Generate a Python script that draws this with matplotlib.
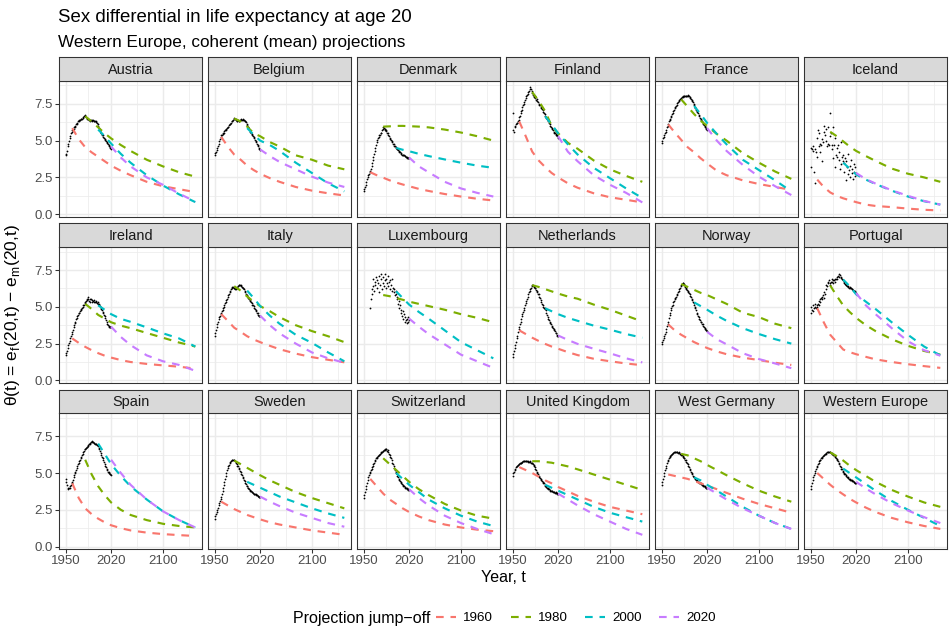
import numpy as np
import matplotlib
matplotlib.use("Agg")
import matplotlib.pyplot as plt
from matplotlib.lines import Line2D

plt.rcParams["font.family"] = ["Liberation Sans", "DejaVu Sans"]
plt.rcParams["mathtext.fontset"] = "custom"
plt.rcParams["mathtext.rm"] = "Liberation Sans"

countries = ["Austria", "Belgium", "Denmark", "Finland", "France", "Iceland",
             "Ireland", "Italy", "Luxembourg", "Netherlands", "Norway", "Portugal",
             "Spain", "Sweden", "Switzerland", "United Kingdom", "West Germany",
             "Western Europe"]

obs_years = list(range(1950, 2021))
nan = float("nan")

# observed sex gap in e(20), yearly 1950-2020
observed = {
    "Austria": [4.0, 4.1, 4.3, 4.6, 4.8, 5.0, 5.2, 5.3, 5.5, 5.6,
                5.7, 5.7, 5.8, 5.9, 5.95, 6.0, 6.1, 6.15, 6.2, 6.3,
                6.35, 6.4, 6.4, 6.45, 6.5, 6.5, 6.55, 6.6, 6.65, 6.75,
                6.7, 6.6, 6.55, 6.5, 6.45, 6.45, 6.4, 6.4, 6.35, 6.4,
                6.4, 6.35, 6.4, 6.35, 6.3, 6.3, 6.3, 6.25, 6.2, 6.1,
                6.0, 5.85, 5.75, 5.65, 5.55, 5.5, 5.4, 5.35, 5.25, 5.2,
                5.1, 5.05, 5.0, 4.9, 4.85, 4.75, 4.7, 4.6, 4.55, 4.5, 4.45],
    "Belgium": [4.05, 4.15, 4.25, 4.35, 4.5, 4.65, 4.8, 4.95, 5.1, 5.25,
                5.35, 5.4, 5.45, 5.5, 5.55, 5.65, 5.7, 5.75, 5.8, 5.85,
                5.9, 5.95, 6.05, 6.1, 6.15, 6.2, 6.3, 6.35, 6.4, 6.5,
                6.55, 6.5, 6.45, 6.4, 6.35, 6.35, 6.4, 6.35, 6.35, 6.4,
                6.4, 6.45, 6.4, 6.45, 6.4, 6.4, 6.35, 6.3, 6.25, 6.15,
                6.05, 5.95, 5.9, 5.8, 5.7, 5.6, 5.55, 5.45, 5.4, 5.3,
                5.25, 5.15, 5.05, 4.95, 4.9, 4.8, 4.7, 4.6, 4.5, 4.4, 4.35],
    "Denmark": [1.55, 1.7, 1.85, 2.0, 2.2, 2.4, 2.55, 2.65, 2.75, 2.85,
                2.95, 3.1, 3.3, 3.5, 3.7, 3.9, 4.1, 4.3, 4.5, 4.7,
                4.9, 5.05, 5.15, 5.25, 5.35, 5.4, 5.5, 5.55, 5.7, 5.8,
                5.9, 5.85, 5.8, 5.75, 5.7, 5.65, 5.55, 5.5, 5.4, 5.3,
                5.2, 5.1, 5.05, 4.95, 4.9, 4.8, 4.75, 4.65, 4.6, 4.55,
                4.5, 4.45, 4.4, 4.35, 4.3, 4.25, 4.2, 4.15, 4.1, 4.05,
                4.05, 4.0, 4.0, 3.95, 3.95, 3.9, 3.9, 3.85, 3.85, 3.8, 3.8],
    "Finland": [6.9, 5.7, 5.6, 5.9, 6.0, 6.1, 6.2, 6.2, 6.3, 6.4,
                6.6, 6.7, 6.85, 7.0, 7.1, 7.25, 7.4, 7.5, 7.65, 7.75,
                7.9, 8.0, 8.1, 8.2, 8.3, 8.4, 8.5, 8.65, 8.5, 8.35,
                8.25, 8.1, 8.0, 7.95, 8.05, 7.9, 7.75, 7.8, 7.7, 7.6,
                7.5, 7.45, 7.4, 7.3, 7.2, 7.15, 7.05, 6.95, 6.85, 6.8,
                6.7, 6.6, 6.55, 6.45, 6.4, 6.3, 6.2, 6.1, 6.0, 5.9,
                5.85, 5.8, 5.7, 5.6, 5.55, 5.5, 5.45, 5.4, 5.35, 5.3, 5.2],
    "France": [4.85, 5.0, 5.15, 5.25, 5.4, 5.5, 5.6, 5.75, 5.9, 6.0,
               6.15, 6.3, 6.4, 6.5, 6.6, 6.7, 6.8, 6.9, 7.0, 7.1,
               7.2, 7.3, 7.35, 7.45, 7.55, 7.6, 7.7, 7.75, 7.8, 7.85,
               7.9, 7.95, 7.95, 8.0, 8.0, 8.0, 8.05, 8.0, 8.05, 8.05,
               8.05, 8.1, 8.0, 7.95, 7.9, 7.8, 7.75, 7.7, 7.6, 7.5,
               7.4, 7.3, 7.2, 7.1, 7.0, 6.95, 6.85, 6.75, 6.65, 6.55,
               6.45, 6.4, 6.3, 6.2, 6.15, 6.05, 6.0, 5.95, 5.85, 5.8, 5.75],
    "Iceland": [4.5, 3.2, 4.4, 4.6, 4.3, 2.9, 2.1, 4.4, 4.2, 3.9,
                5.2, 5.7, 5.5, 4.6, 4.8, 4.2, 4.7, 5.1, 3.6, 4.9,
                5.6, 6.0, 5.4, 5.8, 5.0, 4.6, 4.8, 5.9, 4.7, 5.3,
                6.9, 5.5, 4.4, 4.7, 3.8, 5.9, 4.7, 5.2, 3.2, 4.0,
                4.5, 3.9, 4.7, 3.7, 4.2, 3.1, 4.9, 3.4, 3.9, 3.6,
                4.0, 2.9, 3.5, 3.8, 2.3, 3.6, 3.2, 2.7, 4.1, 3.0,
                3.3, 2.5, 3.7, 2.8, 3.1, 2.4, 3.4, 2.9, 2.6, 3.2, 2.8],
    "Ireland": [1.7, 1.85, 2.0, 2.2, 2.4, 2.55, 2.7, 2.85, 3.0, 3.15,
                3.3, 3.45, 3.6, 3.75, 3.9, 4.0, 4.15, 4.25, 4.35, 4.45,
                4.55, 4.6, 4.7, 4.75, 4.85, 4.9, 5.0, 5.1, 5.15, 5.25,
                5.3, 5.4, 5.45, 5.55, 5.65, 5.5, 5.4, 5.5, 5.35, 5.5,
                5.45, 5.3, 5.4, 5.35, 5.45, 5.3, 5.4, 5.35, 5.25, 5.3,
                5.2, 5.2, 5.15, 5.05, 4.95, 4.85, 4.75, 4.65, 4.55, 4.45,
                4.4, 4.25, 4.1, 3.95, 3.85, 3.75, 3.7, 3.65, 3.6, 3.65, 3.6],
    "Italy": [3.0, 3.2, 3.4, 3.6, 3.8, 4.0, 4.15, 4.3, 4.4, 4.5,
              4.6, 4.7, 4.8, 4.9, 5.0, 5.1, 5.25, 5.35, 5.45, 5.55,
              5.65, 5.8, 5.9, 6.0, 6.1, 6.2, 6.3, 6.35, 6.35, 6.3,
              6.25, 6.2, 6.2, 6.25, 6.3, 6.35, 6.4, 6.45, 6.45, 6.45,
              6.4, 6.45, 6.35, 6.3, 6.25, 6.2, 6.1, 6.0, 5.9, 5.8,
              5.75, 5.7, 5.6, 5.55, 5.45, 5.4, 5.3, 5.25, 5.15, 5.1,
              5.05, 4.95, 4.85, 4.75, 4.7, 4.6, 4.55, 4.45, 4.4, 4.35, 4.4],
    "Luxembourg": [nan, nan, nan, nan, nan, nan, nan, nan, nan, nan,
                   4.9, 5.5, 6.2, 5.9, 6.4, 6.9, 6.1, 6.7, 6.5, 7.0,
                   6.3, 6.8, 6.6, 6.0, 7.1, 6.5, 6.9, 7.2, 6.2, 6.6,
                   7.0, 6.4, 6.8, 7.2, 6.3, 6.9, 6.6, 7.1, 6.4, 6.7,
                   6.8, 6.2, 6.5, 6.9, 6.1, 6.3, 6.0, 6.2, 5.8, 6.1,
                   5.9, 5.5, 5.7, 5.2, 5.4, 4.9, 5.1, 4.6, 4.8, 4.4,
                   4.7, 4.2, 4.5, 4.0, 4.3, 4.1, 3.9, 4.2, 4.0, 4.3, 4.1],
    "Netherlands": [1.6, 1.8, 2.0, 2.2, 2.4, 2.6, 2.85, 3.05, 3.3, 3.5,
                    3.65, 3.8, 3.95, 4.15, 4.35, 4.5, 4.65, 4.8, 4.95, 5.1,
                    5.25, 5.4, 5.55, 5.7, 5.85, 6.0, 6.1, 6.2, 6.3, 6.4,
                    6.45, 6.45, 6.4, 6.35, 6.3, 6.25, 6.15, 6.05, 6.0, 5.9,
                    5.85, 5.7, 5.6, 5.45, 5.35, 5.2, 5.1, 5.0, 4.9, 4.85,
                    4.9, 4.75, 4.6, 4.45, 4.3, 4.2, 4.1, 4.0, 3.9, 3.8,
                    3.7, 3.65, 3.55, 3.5, 3.4, 3.35, 3.25, 3.2, 3.1, 3.05, 3.0],
    "Norway": [2.5, 2.6, 2.75, 2.9, 3.0, 3.15, 3.3, 3.5, 3.7, 3.85,
               4.0, 4.25, 4.45, 4.6, 4.75, 4.9, 5.05, 5.15, 5.3, 5.4,
               5.5, 5.6, 5.7, 5.8, 5.9, 6.0, 6.1, 6.2, 6.3, 6.4,
               6.5, 6.55, 6.6, 6.6, 6.55, 6.45, 6.35, 6.3, 6.2, 6.15,
               6.1, 6.0, 5.95, 5.85, 5.75, 5.65, 5.55, 5.45, 5.35, 5.25,
               5.15, 5.0, 4.9, 4.75, 4.6, 4.5, 4.4, 4.3, 4.2, 4.1,
               4.0, 3.95, 3.85, 3.8, 3.7, 3.65, 3.55, 3.5, 3.45, 3.4, 3.35],
    "Portugal": [4.6, 5.0, 4.8, 4.7, 5.1, 4.9, 5.0, 5.2, 4.9, 5.1,
                 5.0, 5.2, 5.1, 5.4, 5.5, 5.3, 5.6, 5.5, 5.7, 5.8,
                 5.6, 6.0, 5.9, 6.2, 6.5, 6.4, 6.7, 6.6, 6.8, 6.6,
                 6.5, 6.7, 6.9, 6.7, 6.8, 6.6, 6.8, 6.9, 6.7, 6.9,
                 7.0, 6.9, 7.1, 7.0, 7.2, 7.15, 7.0, 6.95, 6.9, 6.8,
                 6.85, 6.7, 6.6, 6.55, 6.5, 6.45, 6.4, 6.4, 6.35, 6.3,
                 6.35, 6.3, 6.25, 6.2, 6.2, 6.15, 6.1, 6.05, 6.1, 6.0, 5.95],
    "Spain": [4.6, 4.4, 4.2, 4.0, 3.9, 3.95, 4.0, 4.1, 4.2, 4.3,
              4.4, 4.55, 4.7, 4.85, 5.0, 5.1, 5.2, 5.35, 5.5, 5.6,
              5.7, 5.8, 5.9, 6.0, 6.1, 6.2, 6.3, 6.4, 6.5, 6.6,
              6.65, 6.7, 6.75, 6.8, 6.85, 6.9, 6.95, 7.0, 7.05, 7.1,
              7.1, 7.15, 7.1, 7.05, 7.05, 7.0, 7.0, 6.95, 6.9, 6.9,
              6.85, 6.7, 6.6, 6.5, 6.35, 6.25, 6.1, 6.0, 5.85, 5.75,
              5.6, 5.5, 5.4, 5.3, 5.2, 5.1, 5.05, 5.0, 4.95, 4.9, 4.85],
    "Sweden": [1.9, 2.05, 2.2, 2.35, 2.5, 2.65, 2.8, 2.95, 3.1, 3.25,
               3.4, 3.6, 3.8, 4.0, 4.2, 4.4, 4.6, 4.8, 5.0, 5.2,
               5.35, 5.45, 5.55, 5.65, 5.75, 5.8, 5.85, 5.9, 5.9, 5.85,
               5.85, 5.8, 5.75, 5.7, 5.6, 5.5, 5.45, 5.35, 5.25, 5.15,
               5.05, 4.95, 4.85, 4.75, 4.65, 4.55, 4.45, 4.35, 4.25, 4.15,
               4.1, 4.0, 3.95, 3.9, 3.85, 3.8, 3.75, 3.7, 3.7, 3.65,
               3.6, 3.6, 3.55, 3.55, 3.5, 3.5, 3.45, 3.45, 3.4, 3.4, 3.4],
    "Switzerland": [3.3, 3.5, 3.7, 3.9, 4.1, 4.3, 4.5, 4.7, 4.85, 5.0,
                    5.1, 5.2, 5.3, 5.4, 5.5, 5.6, 5.7, 5.8, 5.9, 6.0,
                    6.05, 6.1, 6.15, 6.2, 6.25, 6.3, 6.35, 6.4, 6.45, 6.5,
                    6.5, 6.55, 6.6, 6.55, 6.6, 6.65, 6.5, 6.55, 6.4, 6.3,
                    6.2, 6.1, 6.0, 5.85, 5.7, 5.6, 5.5, 5.35, 5.2, 5.1,
                    5.0, 4.9, 4.8, 4.7, 4.6, 4.5, 4.45, 4.4, 4.3, 4.25,
                    4.2, 4.15, 4.1, 4.05, 4.0, 4.0, 3.95, 3.9, 3.9, 3.85, 3.85],
    "United Kingdom": [4.8, 5.0, 5.1, 5.2, 5.3, 5.4, 5.45, 5.5, 5.55, 5.6,
                       5.6, 5.65, 5.7, 5.7, 5.75, 5.75, 5.8, 5.8, 5.8, 5.8,
                       5.8, 5.8, 5.8, 5.75, 5.8, 5.75, 5.8, 5.75, 5.7, 5.7,
                       5.65, 5.6, 5.55, 5.5, 5.4, 5.3, 5.2, 5.1, 5.0, 4.9,
                       4.8, 4.7, 4.65, 4.6, 4.5, 4.45, 4.4, 4.35, 4.3, 4.2,
                       4.15, 4.1, 4.05, 4.0, 3.95, 3.9, 3.9, 3.85, 3.8, 3.8,
                       3.75, 3.75, 3.7, 3.7, 3.7, 3.65, 3.65, 3.7, 3.65, 3.6, 3.6],
    "West Germany": [4.2, 4.4, 4.6, 4.8, 5.0, 5.2, 5.35, 5.5, 5.65, 5.8,
                     5.9, 6.0, 6.1, 6.15, 6.2, 6.25, 6.3, 6.35, 6.35, 6.4,
                     6.4, 6.4, 6.45, 6.4, 6.4, 6.35, 6.4, 6.35, 6.3, 6.3,
                     6.25, 6.2, 6.15, 6.1, 6.05, 6.0, 5.9, 5.85, 5.75, 5.7,
                     5.6, 5.5, 5.4, 5.3, 5.2, 5.1, 5.0, 4.9, 4.8, 4.75,
                     4.7, 4.65, 4.6, 4.55, 4.5, 4.45, 4.4, 4.4, 4.35, 4.3,
                     4.3, 4.25, 4.2, 4.2, 4.15, 4.1, 4.1, 4.05, 4.0, 4.0, 3.95],
    "Western Europe": [3.9, 4.1, 4.3, 4.5, 4.7, 4.85, 5.0, 5.15, 5.3, 5.4,
                       5.5, 5.6, 5.7, 5.8, 5.85, 5.9, 6.0, 6.05, 6.1, 6.15,
                       6.2, 6.25, 6.3, 6.3, 6.35, 6.4, 6.4, 6.4, 6.45, 6.4,
                       6.4, 6.35, 6.35, 6.3, 6.3, 6.25, 6.2, 6.15, 6.1, 6.0,
                       5.95, 5.85, 5.8, 5.7, 5.6, 5.5, 5.4, 5.3, 5.25, 5.15,
                       5.1, 5.0, 4.95, 4.9, 4.85, 4.8, 4.75, 4.7, 4.65, 4.6,
                       4.6, 4.55, 4.5, 4.5, 4.45, 4.45, 4.4, 4.4, 4.35, 4.35, 4.3],
}

# projection years; each jump-off series starts at its own jump-off year
proj_years = [1960, 1970, 1980, 1990, 2000, 2010, 2020, 2035, 2050, 2075, 2100, 2125, 2150]
jumpoffs = [1960, 1980, 2000, 2020]

proj_1960 = {
    "Austria": [5.85, 5.1, 4.55, 4.2, 3.9, 3.6, 3.3, 2.95, 2.65, 2.2, 1.9, 1.7, 1.5],
    "Belgium": [5.25, 4.6, 4.05, 3.7, 3.3, 3.0, 2.75, 2.45, 2.2, 1.85, 1.6, 1.42, 1.27],
    "Denmark": [2.85, 2.65, 2.48, 2.3, 2.15, 2.02, 1.9, 1.72, 1.58, 1.37, 1.2, 1.05, 0.93],
    "Finland": [6.3, 5.3, 4.25, 3.65, 3.2, 2.8, 2.5, 2.1, 1.8, 1.42, 1.15, 0.98, 0.8],
    "France": [6.1, 5.55, 5.05, 4.55, 4.2, 3.8, 3.45, 2.95, 2.65, 2.3, 2.05, 1.85, 1.65],
    "Iceland": [2.35, 1.85, 1.48, 1.25, 1.08, 0.95, 0.82, 0.65, 0.56, 0.48, 0.38, 0.3, 0.25],
    "Ireland": [2.85, 2.55, 2.28, 2.05, 1.85, 1.68, 1.55, 1.38, 1.25, 1.12, 1.02, 0.93, 0.8],
    "Italy": [4.5, 4.05, 3.58, 3.3, 3.0, 2.78, 2.6, 2.35, 2.12, 1.82, 1.58, 1.4, 1.23],
    "Luxembourg": None,
    "Netherlands": [3.4, 3.15, 2.9, 2.68, 2.48, 2.3, 2.15, 1.92, 1.72, 1.47, 1.3, 1.15, 1.03],
    "Norway": [3.8, 3.4, 3.1, 2.85, 2.6, 2.4, 2.2, 1.97, 1.78, 1.55, 1.38, 1.2, 1.05],
    "Portugal": [4.9, 3.95, 3.1, 2.6, 2.1, 1.92, 1.78, 1.6, 1.43, 1.25, 1.1, 0.97, 0.85],
    "Spain": [4.3, 3.3, 2.6, 2.2, 1.9, 1.65, 1.45, 1.25, 1.1, 0.95, 0.85, 0.78, 0.72],
    "Sweden": [3.05, 2.8, 2.55, 2.35, 2.15, 2.0, 1.85, 1.65, 1.5, 1.3, 1.1, 0.95, 0.8],
    "Switzerland": [4.6, 4.1, 3.6, 3.2, 2.9, 2.6, 2.35, 2.05, 1.8, 1.5, 1.3, 1.15, 1.05],
    "United Kingdom": [5.4, 5.2, 5.0, 4.75, 4.5, 4.3, 4.05, 3.75, 3.45, 3.05, 2.7, 2.45, 2.2],
    "West Germany": [4.9, 4.8, 4.7, 4.6, 4.45, 4.3, 4.15, 3.9, 3.65, 3.25, 2.9, 2.6, 2.3],
    "Western Europe": [5.0, 4.6, 4.2, 3.85, 3.55, 3.25, 3.0, 2.65, 2.35, 1.95, 1.65, 1.4, 1.2],
}

proj_1980 = {
    "Austria": [6.65, 6.3, 5.9, 5.5, 5.15, 4.7, 4.3, 3.7, 3.25, 2.85, 2.55],
    "Belgium": [6.5, 6.3, 5.95, 5.5, 5.3, 4.9, 4.6, 4.0, 3.7, 3.3, 3.05],
    "Denmark": [5.95, 5.97, 6.0, 6.0, 5.98, 5.95, 5.9, 5.75, 5.55, 5.3, 5.0],
    "Finland": [8.3, 7.7, 7.0, 6.0, 5.5, 4.85, 4.45, 3.65, 3.05, 2.6, 2.2],
    "France": [7.8, 7.3, 6.8, 6.35, 6.0, 5.45, 5.0, 4.15, 3.5, 2.9, 2.4],
    "Iceland": [5.6, 5.3, 4.95, 4.6, 4.3, 3.95, 3.62, 3.1, 2.75, 2.5, 2.2],
    "Ireland": [5.2, 4.85, 4.45, 4.2, 3.95, 3.72, 3.55, 3.22, 2.9, 2.57, 2.3],
    "Italy": [6.4, 6.1, 5.7, 5.35, 5.05, 4.7, 4.3, 3.75, 3.35, 3.0, 2.6],
    "Luxembourg": [5.8, 5.72, 5.6, 5.48, 5.35, 5.2, 5.05, 4.8, 4.5, 4.25, 3.95],
    "Netherlands": [6.47, 6.35, 6.2, 6.05, 5.9, 5.7, 5.55, 5.15, 4.8, 4.4, 4.0],
    "Norway": [6.55, 6.35, 6.15, 5.95, 5.8, 5.5, 5.2, 4.6, 4.3, 3.85, 3.55],
    "Portugal": [6.45, 5.75, 5.1, 4.65, 4.25, 3.75, 3.35, 2.8, 2.35, 2.0, 1.75],
    "Spain": [5.9, 4.9, 4.1, 3.5, 3.0, 2.5, 2.15, 1.8, 1.55, 1.4, 1.3],
    "Sweden": [5.85, 5.6, 5.35, 5.1, 4.85, 4.5, 4.2, 3.7, 3.3, 2.95, 2.6],
    "Switzerland": [6.0, 5.6, 5.2, 4.8, 4.4, 3.9, 3.5, 2.9, 2.45, 2.1, 1.9],
    "United Kingdom": [5.8, 5.8, 5.75, 5.7, 5.6, 5.45, 5.25, 4.9, 4.55, 4.2, 3.85],
    "West Germany": [6.3, 6.2, 6.0, 5.8, 5.55, 5.2, 4.85, 4.3, 3.8, 3.4, 3.05],
    "Western Europe": [6.4, 6.15, 5.85, 5.5, 5.2, 4.8, 4.4, 3.85, 3.4, 3.0, 2.7],
}

proj_2000 = {
    "Austria": [5.75, 5.3, 4.8, 4.1, 3.5, 2.65, 1.95, 1.35, 0.82],
    "Belgium": [5.85, 5.4, 5.0, 4.7, 4.3, 3.5, 2.8, 2.1, 1.55],
    "Denmark": [4.5, 4.38, 4.28, 4.1, 3.95, 3.72, 3.5, 3.3, 3.15],
    "Finland": [6.65, 6.1, 5.5, 4.75, 4.06, 3.15, 2.45, 1.75, 1.1],
    "France": [7.35, 6.8, 6.2, 5.45, 4.75, 3.7, 3.0, 2.3, 1.55],
    "Iceland": [3.5, 3.1, 2.7, 2.35, 2.05, 1.6, 1.2, 0.88, 0.65],
    "Ireland": [5.1, 4.8, 4.5, 4.18, 3.98, 3.6, 3.2, 2.85, 2.3],
    "Italy": [6.1, 5.6, 5.05, 4.4, 3.85, 3.1, 2.55, 1.9, 1.3],
    "Luxembourg": [6.05, 5.6, 5.15, 4.65, 4.2, 3.4, 2.6, 2.05, 1.5],
    "Netherlands": [4.9, 4.7, 4.5, 4.25, 4.05, 3.72, 3.45, 3.15, 2.9],
    "Norway": [5.3, 5.05, 4.8, 4.4, 4.05, 3.55, 3.15, 2.8, 2.5],
    "Portugal": [6.85, 6.4, 5.85, 5.35, 4.85, 3.95, 3.1, 2.3, 1.7],
    "Spain": [7.0, 6.3, 5.6, 4.8, 4.1, 3.2, 2.4, 1.8, 1.3],
    "Sweden": [4.4, 4.2, 4.0, 3.7, 3.4, 3.0, 2.6, 2.25, 1.95],
    "Switzerland": [5.0, 4.6, 4.2, 3.7, 3.2, 2.6, 2.1, 1.7, 1.4],
    "United Kingdom": [4.2, 4.0, 3.8, 3.5, 3.2, 2.7, 2.3, 2.0, 1.7],
    "West Germany": [4.7, 4.5, 4.2, 3.8, 3.4, 2.7, 2.1, 1.6, 1.2],
    "Western Europe": [5.3, 5.0, 4.7, 4.25, 3.8, 3.1, 2.5, 1.95, 1.4],
}

proj_2020 = {
    "Austria": [4.6, 3.85, 3.25, 2.5, 2.0, 1.4, 0.85],
    "Belgium": [4.4, 3.95, 3.55, 3.05, 2.55, 2.15, 1.85],
    "Denmark": [3.85, 3.25, 2.85, 2.2, 1.75, 1.45, 1.2],
    "Finland": [5.3, 4.25, 3.6, 2.65, 2.0, 1.45, 0.8],
    "France": [5.85, 5.0, 4.3, 3.35, 2.55, 1.9, 1.3],
    "Iceland": [2.8, 2.38, 2.08, 1.62, 1.25, 0.9, 0.65],
    "Ireland": [3.65, 2.95, 2.4, 1.7, 1.3, 1.05, 0.65],
    "Italy": [4.4, 3.75, 3.2, 2.5, 1.9, 1.5, 1.2],
    "Luxembourg": [4.2, 3.65, 3.15, 2.45, 1.75, 1.3, 0.85],
    "Netherlands": [3.05, 2.75, 2.48, 2.15, 1.84, 1.5, 1.22],
    "Norway": [3.3, 2.8, 2.45, 1.85, 1.45, 1.15, 0.83],
    "Portugal": [5.93, 5.1, 4.5, 3.55, 2.66, 2.05, 1.68],
    "Spain": [5.9, 5.0, 4.2, 3.2, 2.4, 1.8, 1.3],
    "Sweden": [3.4, 3.05, 2.75, 2.3, 1.95, 1.6, 1.35],
    "Switzerland": [3.9, 3.3, 2.8, 2.1, 1.6, 1.2, 0.85],
    "United Kingdom": [3.6, 3.2, 2.8, 2.2, 1.7, 1.2, 0.8],
    "West Germany": [4.0, 3.6, 3.2, 2.6, 2.1, 1.6, 1.2],
    "Western Europe": [4.4, 3.95, 3.55, 2.95, 2.45, 2.0, 1.6],
}

projections = {1960: proj_1960, 1980: proj_1980, 2000: proj_2000, 2020: proj_2020}
jumpoff_colors = ["#F8766D", "#7CAE00", "#00BFC4", "#C77CFF"]

x_breaks = [1950, 2020, 2100]
x_minor = [1985, 2060, 2140]
y_breaks = [0.0, 2.5, 5.0, 7.5]
y_minor = [1.25, 3.75, 6.25, 8.75]

# ---- figure and facet layout (pixel based) ----
W, H = 951, 628
fig = plt.figure(figsize=(W / 96, H / 96), dpi=96)
fig.patch.set_facecolor("white")

def fx(px):
    return px / W

def fy(py):
    return 1 - py / H

panel_left0 = 59.3
col_step = 149.0
panel_w = 142.5
panel_top0 = 81.0
row_step = 166.2
panel_h = 135.7
strip_h = 23.7

edge = "#333333"
line_w = 1.6
dash = (0, (3.6, 3.2))

for i, country in enumerate(countries):
    r, c = divmod(i, 6)
    left = panel_left0 + c * col_step
    top = panel_top0 + r * row_step
    ax = fig.add_axes([fx(left), fy(top + panel_h), panel_w / W, panel_h / H])
    ax.set_facecolor("white")
    ax.set_xlim(1940, 2160)
    ax.set_ylim(-0.17, 9.05)
    ax.set_xticks(x_breaks)
    ax.set_xticks(x_minor, minor=True)
    ax.set_yticks(y_breaks)
    ax.set_yticks(y_minor, minor=True)
    ax.set_xticklabels([str(v) for v in x_breaks])
    ax.set_yticklabels([f"{v:.1f}" for v in y_breaks])
    ax.grid(which="major", color="#EBEBEB", linewidth=1.1)
    ax.grid(which="minor", color="#EBEBEB", linewidth=0.55)
    ax.set_axisbelow(True)
    for s in ax.spines.values():
        s.set_color(edge)
        s.set_linewidth(0.8)
    ax.tick_params(which="minor", length=0)
    ax.tick_params(which="major", length=2.75, width=0.8, color=edge,
                   labelcolor="#4D4D4D", labelsize=9.9, pad=2.0)
    if r != 2:
        ax.tick_params(axis="x", which="major", length=0, labelbottom=False)
    if c != 0:
        ax.tick_params(axis="y", which="major", length=0, labelleft=False)

    ax.scatter(obs_years, observed[country], s=1.8, color="black",
               linewidths=0, zorder=3)

    for j, col in zip(jumpoffs, jumpoff_colors):
        vals = projections[j][country]
        if vals is None:
            continue
        yrs = [y for y in proj_years if y >= j]
        ax.plot(yrs, vals, color=col, linewidth=line_w, linestyle=dash,
                zorder=4, dash_capstyle="butt")

    sax = fig.add_axes([fx(left), fy(top), panel_w / W, strip_h / H])
    sax.set_facecolor("#D9D9D9")
    sax.set_xticks([])
    sax.set_yticks([])
    for s in sax.spines.values():
        s.set_color(edge)
        s.set_linewidth(0.8)
    sax.text(0.5, 0.47, country, ha="center", va="center", fontsize=10.9,
             color="#1A1A1A", transform=sax.transAxes)

# ---- titles ----
fig.text(fx(58), fy(18), "Sex differential in life expectancy at age 20",
         fontsize=14, color="black", ha="left", va="center")
fig.text(fx(58), fy(43), "Western Europe, coherent (mean) projections",
         fontsize=12.8, color="black", ha="left", va="center")

fig.text(fx(503), fy(578), "Year, t", fontsize=12, ha="center", va="center")
fig.text(fx(13), fy(315),
         r"θ(t) = e$_\mathregular{f}$(20,t) − e$_\mathregular{m}$(20,t)",
         fontsize=13, rotation=90, ha="center", va="center")

# ---- legend ----
fig.text(fx(293), fy(618), "Projection jump\u2212off", fontsize=12,
         ha="left", va="center")
handles = [Line2D([0], [0], color=col, linewidth=line_w, linestyle=dash)
           for col in jumpoff_colors]
fig.legend(handles, [str(j) for j in jumpoffs], loc="center left",
           bbox_to_anchor=(fx(436), fy(618)), ncol=4, frameon=False,
           fontsize=10, handlelength=1.5, handletextpad=0.55,
           columnspacing=1.3, borderaxespad=0, borderpad=0)

fig.savefig("out.png", dpi=96, facecolor="white")
